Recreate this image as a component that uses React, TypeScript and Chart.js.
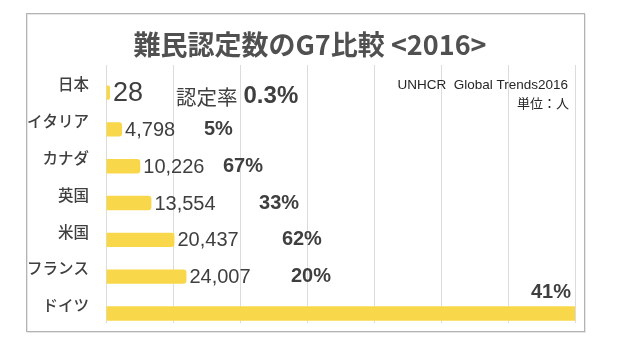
import React, { useEffect, useRef } from 'react';
import { Chart, registerables } from 'chart.js';

Chart.register(...registerables);

const categories = ['日本', 'イタリア', 'カナダ', '英国', '米国', 'フランス', 'ドイツ'];
const refugees = [28, 4798, 10226, 13554, 20437, 24007, 263622];
const valueLabels = ['28', '4,798', '10,226', '13,554', '20,437', '24,007', '263,622'];
const rateLabels = ['0.3%', '5%', '67%', '33%', '62%', '20%', '41%'];
const rateAnchors = [20900, 29250, 34900, 45700, 52500, 55200, 138800];
const xMax = 140000;
const xStep = 20000;
const titleText = '難民認定数のG7比較 <2016>';
const sourceNote = 'UNHCR  Global Trends2016';
const unitNote = '単位：人';
const rateCaption = '認定率';

const JP = '"Noto Sans CJK JP", sans-serif';
const LAT = '"Liberation Sans", Arial, sans-serif';
const TEXT = '#3f3f3f';

const decor = {
  id: 'decor',
  beforeDraw(chart: any) {
    const ctx = chart.ctx;
    ctx.save();
    ctx.fillStyle = '#ffffff';
    ctx.fillRect(0, 0, chart.width, chart.height);
    ctx.strokeStyle = '#e6e6e6';
    ctx.lineWidth = 1;
    ctx.strokeRect(27.5, 14.5, 558, 318);
    ctx.strokeStyle = '#b3b3b3';
    ctx.strokeRect(26.5, 13.5, 558, 318);
    ctx.restore();
  },
  afterDatasetsDraw(chart: any) {
    const ctx = chart.ctx;
    const meta = chart.getDatasetMeta(1);
    const xs = chart.scales.x;
    ctx.save();
    // title
    ctx.fillStyle = '#505050';
    ctx.font = `bold 27px ${JP}`;
    ctx.textAlign = 'center';
    ctx.textBaseline = 'middle';
    ctx.fillText(titleText, 310, 45);

    // notes
    ctx.fillStyle = '#262626';
    ctx.textAlign = 'right';
    ctx.font = `13.5px ${LAT}`;
    ctx.fillText(sourceNote, 568, 85);
    ctx.font = `13px ${JP}`;
    ctx.fillText(unitNote, 569, 103);

    // value labels
    ctx.fillStyle = TEXT;
    ctx.textAlign = 'left';
    meta.data.forEach((bar: any, i: number) => {
      if (refugees[i] > xMax) return;
      ctx.font = i === 0 ? `27px ${LAT}` : `20px ${LAT}`;
      ctx.fillText(valueLabels[i], bar.x + 3, bar.y + 1);
    });

    // rate labels
    meta.data.forEach((bar: any, i: number) => {
      const px = xs.getPixelForValue(rateAnchors[i]);
      if (i === 0) {
        ctx.textAlign = 'left';
        ctx.font = `20.5px ${JP}`;
        ctx.fillText(rateCaption, px, bar.y + 5);
        const w = ctx.measureText(rateCaption).width;
        ctx.font = `bold 24px ${LAT}`;
        ctx.fillText(rateLabels[i], px + w + 6, bar.y + 4);
      } else if (refugees[i] > xMax) {
        ctx.textAlign = 'right';
        ctx.font = `bold 20px ${LAT}`;
        ctx.fillText(rateLabels[i], px, bar.y - 21);
      } else {
        ctx.textAlign = 'left';
        ctx.font = `bold 20px ${LAT}`;
        ctx.fillText(rateLabels[i], px, bar.y);
      }
    });
    ctx.restore();
  },
};

export default function App() {
  const ref = useRef<HTMLCanvasElement | null>(null);
  useEffect(() => {
    if (!ref.current) return;
    const chart = new Chart(ref.current, {
      type: 'bar',
      data: {
        labels: categories,
        datasets: [
          { label: 'spacer', data: categories.map(() => null) as any },
          {
            label: '難民認定数',
            data: refugees,
            backgroundColor: '#F8D84A',
            borderRadius: 3,
            borderSkipped: 'start',
            minBarLength: 4,
            clip: 0 as any,
          },
        ],
      },
      options: {
        indexAxis: 'y',
        animation: false,
        responsive: false,
        categoryPercentage: 1,
        barPercentage: 0.78,
        layout: { padding: { top: 65, bottom: 9, left: 0, right: 45 } },
        plugins: { legend: { display: false }, tooltip: { enabled: false }, title: { display: false } },
        scales: {
          x: {
            type: 'linear',
            min: 0,
            max: xMax,
            ticks: { display: false, stepSize: xStep },
            grid: { color: '#dcdcdc', drawTicks: false },
            border: { display: false },
            afterFit(s: any) { s.height = 0; },
          },
          y: {
            type: 'category',
            ticks: { color: TEXT, font: { family: JP, size: 15.5, weight: '500' }, padding: 9, labelOffset: 1 },
            grid: { display: false },
            border: { display: false },
            afterFit(s: any) { s.width = 106; },
          },
        },
      } as any,
      plugins: [decor],
    });
    return () => chart.destroy();
  }, []);
  return (
    <div style={{ position: 'absolute', left: 0, top: 0, width: 620, height: 341, background: '#fff' }}>
      <canvas ref={ref} width={620} height={341} style={{ display: 'block' }} />
    </div>
  );
}
